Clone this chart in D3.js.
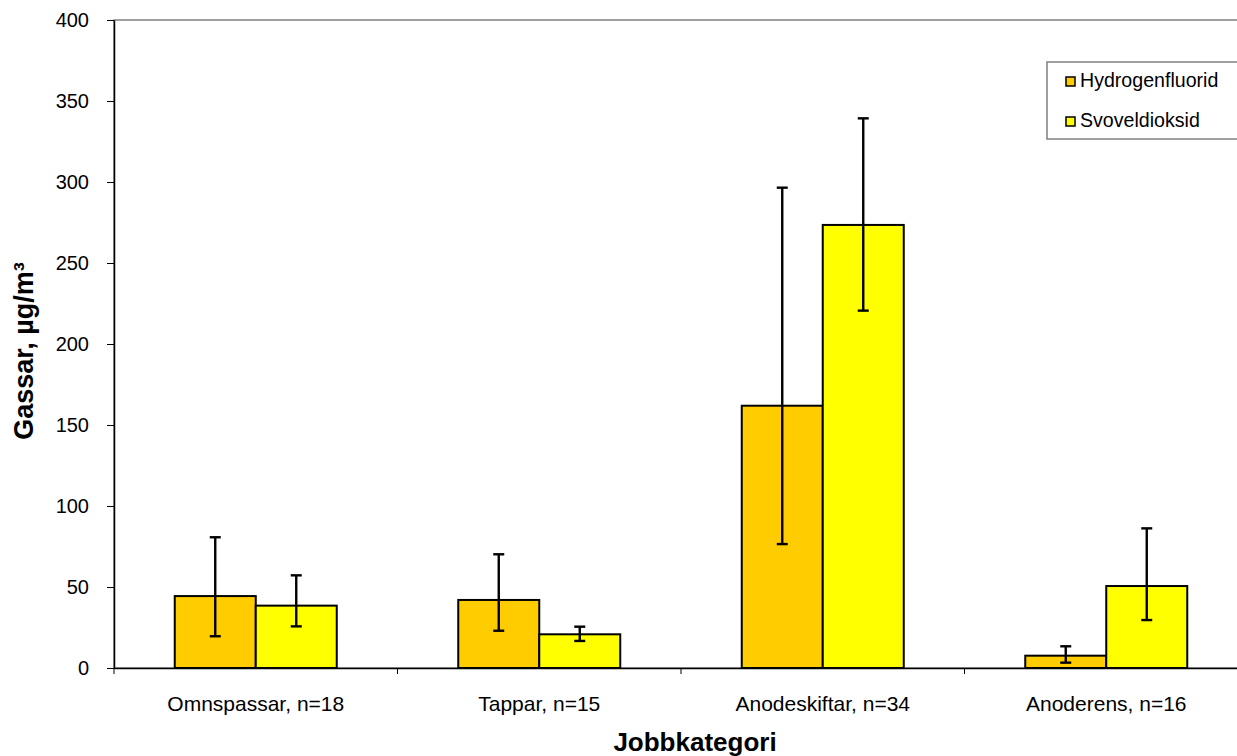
<!DOCTYPE html>
<html>
<head>
<meta charset="utf-8">
<script src="https://cdn.jsdelivr.net/npm/d3@7"></script>
<style>
  html, body { margin: 0; padding: 0; background: #fff; }
  svg { display: block; font-family: "Liberation Sans", Arial, sans-serif; }
</style>
</head>
<body>
<svg id="chart" width="1237" height="756"></svg>
<script>
// Job categories on the x axis
const categories = ["Omnspassar, n=18", "Tappar, n=15", "Anodeskiftar, n=34", "Anoderens, n=16"];

// Series names
const seriesNames = ["Hydrogenfluorid", "Svoveldioksid"];

// Hydrogenfluorid: bar value and error-bar low/high (µg/m³)
const hfValues = [44.4, 42.0, 161.9, 7.6];
const hfLow    = [19.6, 23.0, 76.5, 3.3];
const hfHigh   = [80.7, 70.2, 296.5, 13.4];

// Svoveldioksid: bar value and error-bar low/high (µg/m³)
const so2Values = [38.5, 20.8, 273.5, 50.6];
const so2Low    = [25.7, 16.7, 220.6, 29.6];
const so2High   = [57.2, 25.5, 339.3, 86.2];

// Y axis ticks
const yTicks = [0, 50, 100, 150, 200, 250, 300, 350, 400];

const seriesColors = ["#FFCC00", "#FFFF00"];

const svg = d3.select("#chart");
const plotLeft = 114, plotRight = 1248, plotTop = 20, plotBottom = 668;

const y = d3.scaleLinear().domain([0, 400]).range([plotBottom, plotTop]);
const x0 = d3.scaleBand().domain(categories).range([plotLeft, plotRight]).padding(0);
const bw = x0.bandwidth();
// two bars of width bw/3.5 centred in each band (gap width 150%)
const x1 = d3.scaleBand().domain(seriesNames)
  .range([bw * 0.75 / 3.5, bw * 2.75 / 3.5]).padding(0);

// Plot area frame
svg.append("rect")
  .attr("x", plotLeft).attr("y", plotTop)
  .attr("width", plotRight - plotLeft).attr("height", plotBottom - plotTop)
  .attr("fill", "none").attr("stroke", "#808080").attr("stroke-width", 1.5);

// Rows of data for drawing
const rows = categories.map((c, i) => ({
  cat: c,
  items: [
    { s: seriesNames[0], v: hfValues[i], lo: hfLow[i], hi: hfHigh[i], color: seriesColors[0] },
    { s: seriesNames[1], v: so2Values[i], lo: so2Low[i], hi: so2High[i], color: seriesColors[1] }
  ]
}));

const groups = svg.append("g").selectAll("g")
  .data(rows).join("g")
  .attr("transform", d => `translate(${x0(d.cat)},0)`);

groups.selectAll("rect")
  .data(d => d.items).join("rect")
  .attr("x", d => x1(d.s))
  .attr("y", d => y(d.v))
  .attr("width", x1.bandwidth())
  .attr("height", d => y(0) - y(d.v))
  .attr("fill", d => d.color)
  .attr("stroke", "#000").attr("stroke-width", 2);

// Error bars
const capHalf = 5.5;
const eb = groups.selectAll("g.err")
  .data(d => d.items).join("g").attr("class", "err")
  .attr("stroke", "#000").attr("stroke-width", 2.4);
eb.append("line")
  .attr("x1", d => x1(d.s) + x1.bandwidth() / 2)
  .attr("x2", d => x1(d.s) + x1.bandwidth() / 2)
  .attr("y1", d => y(d.lo)).attr("y2", d => y(d.hi));
eb.append("line")
  .attr("x1", d => x1(d.s) + x1.bandwidth() / 2 - capHalf)
  .attr("x2", d => x1(d.s) + x1.bandwidth() / 2 + capHalf)
  .attr("y1", d => y(d.hi)).attr("y2", d => y(d.hi));
eb.append("line")
  .attr("x1", d => x1(d.s) + x1.bandwidth() / 2 - capHalf)
  .attr("x2", d => x1(d.s) + x1.bandwidth() / 2 + capHalf)
  .attr("y1", d => y(d.lo)).attr("y2", d => y(d.lo));

// Y axis
const yAxis = svg.append("g")
  .attr("transform", `translate(${plotLeft},0)`)
  .call(d3.axisLeft(y).tickValues(yTicks).tickSize(7).tickPadding(18).tickSizeOuter(0));
yAxis.select(".domain").attr("stroke", "#000").attr("stroke-width", 1.5);
yAxis.selectAll(".tick line").attr("stroke", "#000").attr("stroke-width", 1);
yAxis.selectAll(".tick text")
  .attr("font-size", 20).attr("fill", "#000")
  .attr("font-family", "Liberation Sans, Arial, sans-serif");

// X axis: baseline, boundary ticks, category labels
const xAxis = svg.append("g")
  .attr("transform", `translate(0,${plotBottom})`)
  .call(d3.axisBottom(x0).tickSize(0).tickPadding(28).tickSizeOuter(0));
xAxis.select(".domain").attr("stroke", "#000").attr("stroke-width", 1.5);
xAxis.selectAll(".tick text")
  .attr("font-size", 21).attr("fill", "#000")
  .attr("font-family", "Liberation Sans, Arial, sans-serif");
svg.append("g").selectAll("line")
  .data(categories).join("line")
  .attr("x1", d => x0(d)).attr("x2", d => x0(d))
  .attr("y1", plotBottom).attr("y2", plotBottom + 6)
  .attr("stroke", "#000").attr("stroke-width", 1);

// Axis titles
svg.append("text")
  .attr("x", 695).attr("y", 751)
  .attr("text-anchor", "middle")
  .attr("font-size", 26).attr("font-weight", "bold")
  .text("Jobbkategori");

svg.append("text")
  .attr("transform", "translate(33,351) rotate(-90)")
  .attr("text-anchor", "middle")
  .attr("font-size", 27).attr("font-weight", "bold")
  .text("Gassar, µg/m³");

// Legend
const legend = svg.append("g");
legend.append("rect")
  .attr("x", 1047).attr("y", 62).attr("width", 210).attr("height", 77)
  .attr("fill", "#fff").attr("stroke", "#808080").attr("stroke-width", 1.5);
const li = legend.selectAll("g.item")
  .data(seriesNames).join("g").attr("class", "item")
  .attr("transform", (d, i) => `translate(1066,${77 + i * 40})`);
li.append("rect")
  .attr("width", 9).attr("height", 9)
  .attr("fill", (d, i) => seriesColors[i])
  .attr("stroke", "#000").attr("stroke-width", 1.5);
li.append("text")
  .attr("x", 14).attr("y", 10)
  .attr("font-size", 19.6)
  .text(d => d);
</script>
</body>
</html>
